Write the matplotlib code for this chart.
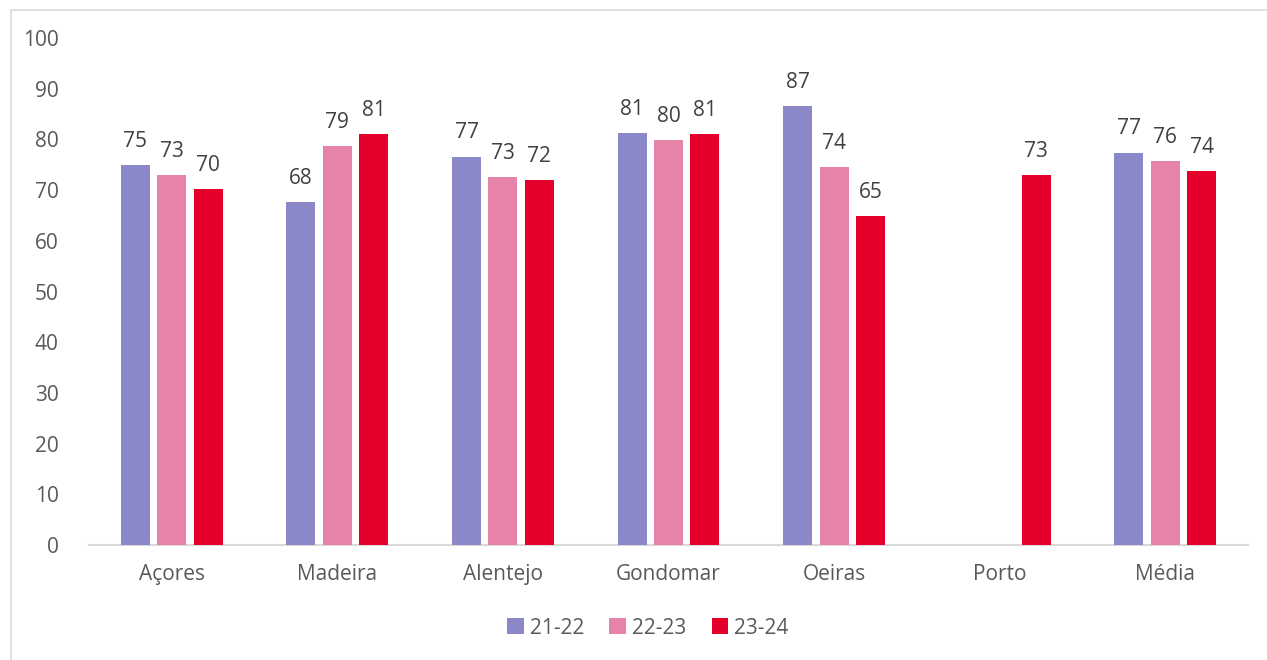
import numpy as np
import matplotlib
matplotlib.use("Agg")
import matplotlib.pyplot as plt
from matplotlib.patches import Rectangle

regions = ["Açores", "Madeira", "Alentejo", "Gondomar", "Oeiras", "Porto", "Média"]
years = ["21-22", "22-23", "23-24"]
v2122 = [75.0, 67.6, 76.6, 81.3, 86.6, np.nan, 77.4]
v2223 = [73.0, 78.7, 72.6, 79.8, 74.5, np.nan, 75.7]
v2324 = [70.2, 81.0, 71.9, 81.0, 64.9, 73.0, 73.7]
colors = ["#8A88C8", "#E683A9", "#E4002B"]

plt.rcParams["font.family"] = ["Open Sans", "DejaVu Sans"]

fig = plt.figure(figsize=(12.67, 6.6), dpi=100)
ax = fig.add_axes([89 / 1267, 1 - 545 / 660, (1248 - 89) / 1267, (545 - 38) / 660])

# light grey chart frame (Excel style)
top = 1 - 10 / 660
fig.patches.append(Rectangle((11 / 1267, -0.1), 1.2, top + 0.1,
                             transform=fig.transFigure, fill=False,
                             edgecolor="#D9D9D9", lw=1.2))

x = np.arange(len(regions))
pitch = 0.22
width = 0.175
for i, (vals, col, lab) in enumerate(zip([v2122, v2223, v2324], colors, years)):
    xs = x + (i - 1) * pitch
    ax.bar(xs, vals, width, color=col, label=lab, zorder=3)
    for xi, v in zip(xs, vals):
        if np.isnan(v):
            continue
        ax.text(xi, v + 2.6, f"{v:.0f}", ha="center", va="bottom",
                fontsize=15, color="#404040")

ax.set_xlim(-0.5, len(regions) - 0.5)
ax.set_ylim(0, 100)
ax.set_yticks(range(0, 101, 10))
ax.set_xticks(x)
ax.set_xticklabels(regions)
ax.tick_params(axis="both", length=0, labelsize=15, labelcolor="#595959")
ax.tick_params(axis="y", pad=22)
ax.tick_params(axis="x", pad=14)
for s in ["top", "right", "left"]:
    ax.spines[s].set_visible(False)
ax.spines["bottom"].set_color("#D9D9D9")
ax.spines["bottom"].set_linewidth(1.5)

leg = fig.legend(loc="center", bbox_to_anchor=(648 / 1267, 1 - 628 / 660), ncol=3,
                 frameon=False, fontsize=15, handlelength=0.8, handleheight=0.8,
                 handletextpad=0.3, columnspacing=1.2)
for t in leg.get_texts():
    t.set_color("#595959")

fig.savefig("out.png", dpi=100)
